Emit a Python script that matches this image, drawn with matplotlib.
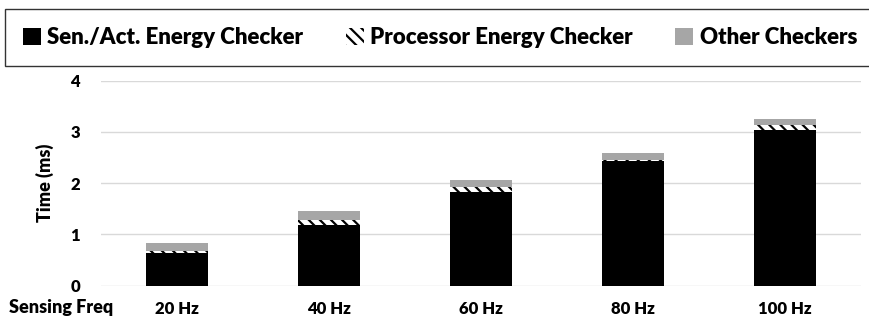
import matplotlib.pyplot as plt
import numpy as np

# Data
freqs = ["20 Hz", "40 Hz", "60 Hz", "80 Hz", "100 Hz"]
sen_act = [0.63, 1.18, 1.83, 2.44, 3.04]
processor = [0.04, 0.10, 0.09, 0.02, 0.10]
other = [0.17, 0.18, 0.15, 0.13, 0.11]

plt.rcParams['font.family'] = ['Lato', 'DejaVu Sans']
plt.rcParams['font.weight'] = 'heavy'
plt.rcParams['hatch.linewidth'] = 1.6

fig = plt.figure(figsize=(8.7, 3.25), dpi=100)
ax = fig.add_axes([0.116, 0.121, 0.874, 0.631])

x = np.arange(len(freqs))
w = 0.41
sen_act = np.array(sen_act)
processor = np.array(processor)
other = np.array(other)

ax.bar(x, sen_act, w, color='black', linewidth=0, label='Sen./Act. Energy Checker', zorder=3)
ax.bar(x, processor, w, bottom=sen_act, facecolor='white', edgecolor='black',
       hatch='\\\\\\', linewidth=0, label='Processor Energy Checker', zorder=3)
ax.bar(x, other, w, bottom=sen_act + processor, color='#a6a6a6', linewidth=0,
       label='Other Checkers', zorder=3)

ax.set_xlim(-0.5, len(freqs) - 0.5)
ax.set_ylim(0, 4)
ax.set_yticks([0, 1, 2, 3, 4])
ax.set_xticks(x)
ax.set_xticklabels(freqs)
ax.tick_params(axis='both', length=0, labelsize=12)
ax.tick_params(axis='x', pad=11)
ax.tick_params(axis='y', pad=15)
ax.grid(axis='y', color='#d9d9d9', linewidth=1, zorder=0)
for s in ax.spines.values():
    s.set_visible(False)
ax.set_ylabel("Time (ms)", fontsize=13, fontweight='heavy', labelpad=12)

fig.text(0.01, 1 - 307 / 325, "Sensing Freq", fontsize=13, fontweight='heavy', va='center')

leg = fig.legend(loc='upper left', bbox_to_anchor=(0.006, 0.972, 1.0, 0.0), mode='expand',
                 ncol=3, fontsize=16, frameon=True, fancybox=False, edgecolor='black',
                 handlelength=0.8, handleheight=0.8, handletextpad=0.3, borderpad=0.8,
                 borderaxespad=0)
leg.get_frame().set_linewidth(1.0)

fig.savefig("out.png", dpi=100)
